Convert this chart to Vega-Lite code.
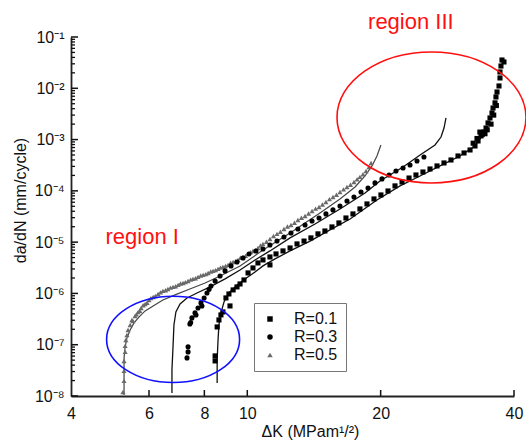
{
  "$schema": "https://vega.github.io/schema/vega-lite/v6.json",
  "width": 443,
  "height": 359,
  "autosize": {"type": "none"},
  "padding": {"left": 71, "top": 37, "right": 12, "bottom": 45},
  "background": "white",
  "config": {"view": {"stroke": null}, "font": "Liberation Sans"},
  "resolve": {"scale": {"x": "independent", "y": "independent"}, "axis": {"x": "independent", "y": "independent"}},
  "datasets": {
    "pts": [
      {"series":"R=0.5","dK":5.24,"dadN":1.2e-8},{"series":"R=0.5","dK":5.27,"dadN":1.97e-8},{"series":"R=0.5","dK":5.27,"dadN":3.09e-8},{"series":"R=0.5","dK":5.27,"dadN":4.83e-8},{"series":"R=0.5","dK":5.30,"dadN":7.24e-8},{"series":"R=0.5","dK":5.30,"dadN":9.48e-8},{"series":"R=0.5","dK":5.32,"dadN":1.24e-7},{"series":"R=0.5","dK":5.35,"dadN":1.55e-7},{"series":"R=0.5","dK":5.38,"dadN":1.94e-7},{"series":"R=0.5","dK":5.44,"dadN":2.43e-7},{"series":"R=0.5","dK":5.49,"dadN":3.04e-7},{"series":"R=0.5","dK":5.58,"dadN":3.64e-7},{"series":"R=0.5","dK":5.67,"dadN":4.36e-7},{"series":"R=0.5","dK":5.76,"dadN":5.21e-7},{"series":"R=0.5","dK":5.88,"dadN":6.24e-7},{"series":"R=0.5","dK":6.00,"dadN":7.46e-7},{"series":"R=0.5","dK":6.13,"dadN":8.55e-7},{"series":"R=0.5","dK":6.29,"dadN":9.77e-7},{"series":"R=0.5","dK":6.45,"dadN":1.12e-6},{"series":"R=0.5","dK":6.62,"dadN":1.22e-6},{"series":"R=0.5","dK":6.80,"dadN":1.34e-6},{"series":"R=0.5","dK":6.98,"dadN":1.47e-6},{"series":"R=0.5","dK":7.16,"dadN":1.60e-6},{"series":"R=0.5","dK":7.35,"dadN":1.75e-6},{"series":"R=0.5","dK":7.54,"dadN":1.92e-6},{"series":"R=0.5","dK":7.74,"dadN":2.10e-6},{"series":"R=0.5","dK":7.95,"dadN":2.30e-6},{"series":"R=0.5","dK":8.16,"dadN":2.51e-6},{"series":"R=0.5","dK":8.37,"dadN":2.75e-6},{"series":"R=0.5","dK":8.59,"dadN":3.01e-6},{"series":"R=0.5","dK":8.81,"dadN":3.29e-6},{"series":"R=0.5","dK":9.05,"dadN":3.60e-6},{"series":"R=0.5","dK":9.29,"dadN":4.11e-6},{"series":"R=0.5","dK":9.53,"dadN":4.50e-6},{"series":"R=0.5","dK":9.78,"dadN":5.14e-6},{"series":"R=0.5","dK":10.04,"dadN":5.89e-6},{"series":"R=0.5","dK":10.30,"dadN":6.74e-6},{"series":"R=0.5","dK":10.57,"dadN":7.70e-6},{"series":"R=0.5","dK":10.85,"dadN":9.23e-6},{"series":"R=0.5","dK":11.25,"dadN":1.15e-5},{"series":"R=0.5","dK":11.67,"dadN":1.45e-5},{"series":"R=0.5","dK":12.10,"dadN":1.81e-5},{"series":"R=0.5","dK":12.55,"dadN":2.16e-5},{"series":"R=0.5","dK":13.01,"dadN":2.71e-5},{"series":"R=0.5","dK":13.50,"dadN":3.24e-5},{"series":"R=0.5","dK":14.00,"dadN":4.06e-5},{"series":"R=0.5","dK":14.52,"dadN":4.85e-5},{"series":"R=0.5","dK":15.05,"dadN":6.08e-5},{"series":"R=0.5","dK":15.61,"dadN":7.60e-5},{"series":"R=0.5","dK":16.19,"dadN":9.52e-5},{"series":"R=0.5","dK":16.79,"dadN":1.19e-4},{"series":"R=0.5","dK":17.41,"dadN":1.49e-4},{"series":"R=0.5","dK":17.96,"dadN":1.87e-4},{"series":"R=0.5","dK":18.54,"dadN":2.44e-4},{"series":"R=0.5","dK":18.83,"dadN":2.92e-4},{"series":"R=0.5","dK":19.03,"dadN":3.50e-4},
      {"series":"R=0.5","dK":5.52,"dadN":2.9e-7},{"series":"R=0.5","dK":5.62,"dadN":3.9e-7},{"series":"R=0.5","dK":5.72,"dadN":4.6e-7},{"series":"R=0.5","dK":5.82,"dadN":5.9e-7},{"series":"R=0.5","dK":5.94,"dadN":6.6e-7},{"series":"R=0.5","dK":6.06,"dadN":8.1e-7},{"series":"R=0.5","dK":6.20,"dadN":8.9e-7},{"series":"R=0.5","dK":6.37,"dadN":1.05e-6},{"series":"R=0.5","dK":6.54,"dadN":1.15e-6},{"series":"R=0.5","dK":6.71,"dadN":1.30e-6},{"series":"R=0.5","dK":6.89,"dadN":1.38e-6},{"series":"R=0.5","dK":7.07,"dadN":1.56e-6},{"series":"R=0.5","dK":7.25,"dadN":1.66e-6},{"series":"R=0.5","dK":7.45,"dadN":1.86e-6},{"series":"R=0.5","dK":7.64,"dadN":1.98e-6},{"series":"R=0.5","dK":7.85,"dadN":2.24e-6},{"series":"R=0.5","dK":8.06,"dadN":2.38e-6},{"series":"R=0.5","dK":8.27,"dadN":2.68e-6},{"series":"R=0.5","dK":8.48,"dadN":2.85e-6},{"series":"R=0.5","dK":8.70,"dadN":3.18e-6},{"series":"R=0.5","dK":8.93,"dadN":3.42e-6},{"series":"R=0.5","dK":9.17,"dadN":3.95e-6},{"series":"R=0.5","dK":9.41,"dadN":4.25e-6},{"series":"R=0.5","dK":9.65,"dadN":4.95e-6},{"series":"R=0.5","dK":9.91,"dadN":5.4e-6},{"series":"R=0.5","dK":10.17,"dadN":6.4e-6},{"series":"R=0.5","dK":10.43,"dadN":7.0e-6},{"series":"R=0.5","dK":10.71,"dadN":8.6e-6},{"series":"R=0.5","dK":11.05,"dadN":1.02e-5},{"series":"R=0.5","dK":11.46,"dadN":1.32e-5},{"series":"R=0.5","dK":11.88,"dadN":1.60e-5},{"series":"R=0.5","dK":12.32,"dadN":2.02e-5},{"series":"R=0.5","dK":12.78,"dadN":2.38e-5},{"series":"R=0.5","dK":13.25,"dadN":2.98e-5},{"series":"R=0.5","dK":13.75,"dadN":3.62e-5},{"series":"R=0.5","dK":14.26,"dadN":4.5e-5},{"series":"R=0.5","dK":14.78,"dadN":5.4e-5},{"series":"R=0.5","dK":15.33,"dadN":6.9e-5},{"series":"R=0.5","dK":15.90,"dadN":8.4e-5},{"series":"R=0.5","dK":16.49,"dadN":1.07e-4},{"series":"R=0.5","dK":17.10,"dadN":1.32e-4},{"series":"R=0.5","dK":17.70,"dadN":1.68e-4},{"series":"R=0.5","dK":18.25,"dadN":2.1e-4},
      {"series":"R=0.3","dK":7.31,"dadN":5.53e-8},{"series":"R=0.3","dK":7.35,"dadN":7.24e-8},{"series":"R=0.3","dK":7.35,"dadN":9.1e-8},{"series":"R=0.3","dK":7.42,"dadN":2.54e-7},{"series":"R=0.3","dK":7.45,"dadN":2.7e-7},{"series":"R=0.3","dK":7.50,"dadN":3.33e-7},{"series":"R=0.3","dK":7.62,"dadN":4.17e-7},{"series":"R=0.3","dK":7.66,"dadN":3.8e-7},{"series":"R=0.3","dK":7.74,"dadN":5.21e-7},{"series":"R=0.3","dK":7.86,"dadN":6.53e-7},{"series":"R=0.3","dK":7.90,"dadN":5.7e-7},{"series":"R=0.3","dK":7.99,"dadN":8.17e-7},{"series":"R=0.3","dK":8.11,"dadN":1.02e-6},{"series":"R=0.3","dK":8.20,"dadN":1.2e-6},{"series":"R=0.3","dK":8.28,"dadN":1.40e-6},{"series":"R=0.3","dK":8.46,"dadN":1.75e-6},{"series":"R=0.3","dK":8.68,"dadN":2.19e-6},{"series":"R=0.3","dK":8.91,"dadN":2.75e-6},{"series":"R=0.3","dK":9.19,"dadN":3.44e-6},{"series":"R=0.3","dK":9.48,"dadN":4.11e-6},{"series":"R=0.3","dK":9.78,"dadN":4.92e-6},{"series":"R=0.3","dK":10.09,"dadN":5.89e-6},{"series":"R=0.3","dK":10.46,"dadN":6.74e-6},{"series":"R=0.3","dK":10.85,"dadN":7.37e-6},{"series":"R=0.3","dK":11.25,"dadN":8.82e-6},{"series":"R=0.3","dK":11.67,"dadN":1.05e-5},{"series":"R=0.3","dK":12.10,"dadN":1.26e-5},{"series":"R=0.3","dK":12.55,"dadN":1.51e-5},{"series":"R=0.3","dK":13.01,"dadN":1.81e-5},{"series":"R=0.3","dK":13.50,"dadN":2.16e-5},{"series":"R=0.3","dK":14.00,"dadN":2.59e-5},{"series":"R=0.3","dK":14.52,"dadN":2.96e-5},{"series":"R=0.3","dK":15.05,"dadN":3.55e-5},{"series":"R=0.3","dK":15.61,"dadN":4.25e-5},{"series":"R=0.3","dK":16.19,"dadN":5.08e-5},{"series":"R=0.3","dK":16.79,"dadN":6.36e-5},{"series":"R=0.3","dK":17.41,"dadN":7.60e-5},{"series":"R=0.3","dK":18.06,"dadN":9.52e-5},{"series":"R=0.3","dK":18.73,"dadN":1.14e-4},{"series":"R=0.3","dK":19.42,"dadN":1.43e-4},{"series":"R=0.3","dK":20.14,"dadN":1.71e-4},{"series":"R=0.3","dK":20.89,"dadN":2.04e-4},{"series":"R=0.3","dK":21.66,"dadN":2.44e-4},{"series":"R=0.3","dK":22.47,"dadN":2.79e-4},{"series":"R=0.3","dK":23.30,"dadN":3.20e-4},{"series":"R=0.3","dK":24.16,"dadN":3.83e-4},{"series":"R=0.3","dK":25.05,"dadN":4.58e-4},
      {"series":"R=0.1","dK":8.46,"dadN":4.83e-8},{"series":"R=0.1","dK":8.46,"dadN":6.05e-8},{"series":"R=0.1","dK":8.55,"dadN":2.22e-7},{"series":"R=0.1","dK":8.63,"dadN":3.04e-7},{"series":"R=0.1","dK":8.72,"dadN":3.81e-7},{"series":"R=0.1","dK":8.81,"dadN":4.36e-7},{"series":"R=0.1","dK":9.14,"dadN":5.70e-7},{"series":"R=0.1","dK":8.95,"dadN":8.17e-7},{"series":"R=0.1","dK":9.09,"dadN":9.77e-7},{"series":"R=0.1","dK":9.29,"dadN":1.17e-6},{"series":"R=0.1","dK":9.48,"dadN":1.34e-6},{"series":"R=0.1","dK":9.63,"dadN":1.53e-6},{"series":"R=0.1","dK":9.83,"dadN":1.83e-6},{"series":"R=0.1","dK":10.04,"dadN":2.51e-6},{"series":"R=0.1","dK":10.30,"dadN":3.14e-6},{"series":"R=0.1","dK":10.57,"dadN":3.93e-6},{"series":"R=0.1","dK":10.85,"dadN":4.50e-6},{"series":"R=0.1","dK":11.25,"dadN":3.60e-6},{"series":"R=0.1","dK":11.25,"dadN":5.14e-6},{"series":"R=0.1","dK":11.61,"dadN":5.89e-6},{"series":"R=0.1","dK":12.04,"dadN":6.74e-6},{"series":"R=0.1","dK":12.49,"dadN":7.70e-6},{"series":"R=0.1","dK":12.95,"dadN":9.23e-6},{"series":"R=0.1","dK":13.43,"dadN":1.05e-5},{"series":"R=0.1","dK":13.92,"dadN":1.21e-5},{"series":"R=0.1","dK":14.44,"dadN":1.45e-5},{"series":"R=0.1","dK":14.97,"dadN":1.65e-5},{"series":"R=0.1","dK":15.53,"dadN":1.98e-5},{"series":"R=0.1","dK":16.10,"dadN":2.37e-5},{"series":"R=0.1","dK":16.70,"dadN":2.96e-5},{"series":"R=0.1","dK":17.32,"dadN":3.55e-5},{"series":"R=0.1","dK":17.96,"dadN":4.44e-5},{"series":"R=0.1","dK":18.63,"dadN":5.56e-5},{"series":"R=0.1","dK":19.32,"dadN":6.95e-5},{"series":"R=0.1","dK":20.03,"dadN":8.32e-5},{"series":"R=0.1","dK":20.78,"dadN":9.95e-5},{"series":"R=0.1","dK":21.55,"dadN":1.25e-4},{"series":"R=0.1","dK":22.35,"dadN":1.49e-4},{"series":"R=0.1","dK":23.18,"dadN":1.78e-4},{"series":"R=0.1","dK":24.03,"dadN":2.04e-4},{"series":"R=0.1","dK":24.92,"dadN":2.33e-4},{"series":"R=0.1","dK":25.85,"dadN":2.67e-4},{"series":"R=0.1","dK":26.81,"dadN":3.06e-4},{"series":"R=0.1","dK":27.80,"dadN":3.50e-4},{"series":"R=0.1","dK":28.83,"dadN":4.00e-4},{"series":"R=0.1","dK":29.90,"dadN":4.79e-4},{"series":"R=0.1","dK":30.85,"dadN":5.48e-4},{"series":"R=0.1","dK":31.83,"dadN":6.27e-4},{"series":"R=0.1","dK":32.35,"dadN":8.5e-4},{"series":"R=0.1","dK":32.66,"dadN":7.50e-4},{"series":"R=0.1","dK":33.0,"dadN":1.05e-3},{"series":"R=0.1","dK":33.18,"dadN":9.39e-4},{"series":"R=0.1","dK":33.5,"dadN":1.4e-3},{"series":"R=0.1","dK":33.70,"dadN":1.18e-3},{"series":"R=0.1","dK":33.9,"dadN":1.25e-3},{"series":"R=0.1","dK":34.23,"dadN":1.41e-3},{"series":"R=0.1","dK":34.4,"dadN":1.3e-3},{"series":"R=0.1","dK":34.59,"dadN":1.68e-3},{"series":"R=0.1","dK":34.8,"dadN":1.55e-3},{"series":"R=0.1","dK":34.95,"dadN":2.11e-3},{"series":"R=0.1","dK":35.31,"dadN":2.64e-3},{"series":"R=0.1","dK":35.5,"dadN":2.0e-3},{"series":"R=0.1","dK":35.68,"dadN":3.30e-3},{"series":"R=0.1","dK":35.87,"dadN":4.13e-3},{"series":"R=0.1","dK":36.0,"dadN":3.0e-3},{"series":"R=0.1","dK":36.24,"dadN":5.2e-3},{"series":"R=0.1","dK":36.42,"dadN":6.77e-3},{"series":"R=0.1","dK":36.5,"dadN":4.6e-3},{"series":"R=0.1","dK":36.62,"dadN":8.47e-3},{"series":"R=0.1","dK":37.00,"dadN":1.11e-2},{"series":"R=0.1","dK":37.19,"dadN":1.59e-2},{"series":"R=0.1","dK":37.19,"dadN":2.08e-2},{"series":"R=0.1","dK":37.38,"dadN":2.72e-2},{"series":"R=0.1","dK":37.58,"dadN":3.56e-2},{"series":"R=0.1","dK":37.97,"dadN":3.26e-2}
    ],
    "fits": [
      {"series":"R=0.5","dK":5.27,"dadN":1.05e-8},{"series":"R=0.5","dK":5.27,"dadN":2.58e-8},{"series":"R=0.5","dK":5.27,"dadN":5.53e-8},{"series":"R=0.5","dK":5.30,"dadN":9.1e-8},{"series":"R=0.5","dK":5.35,"dadN":1.36e-7},{"series":"R=0.5","dK":5.44,"dadN":1.94e-7},{"series":"R=0.5","dK":5.55,"dadN":2.66e-7},{"series":"R=0.5","dK":5.70,"dadN":3.48e-7},{"series":"R=0.5","dK":5.88,"dadN":4.56e-7},{"series":"R=0.5","dK":6.13,"dadN":5.70e-7},{"series":"R=0.5","dK":6.45,"dadN":7.46e-7},{"series":"R=0.5","dK":6.87,"dadN":9.35e-7},{"series":"R=0.5","dK":7.42,"dadN":1.22e-6},{"series":"R=0.5","dK":8.03,"dadN":1.60e-6},{"series":"R=0.5","dK":8.68,"dadN":2.19e-6},{"series":"R=0.5","dK":9.63,"dadN":3.44e-6},{"series":"R=0.5","dK":10.85,"dadN":7.0e-6},{"series":"R=0.5","dK":12.49,"dadN":1.51e-5},{"series":"R=0.5","dK":14.59,"dadN":3.71e-5},{"series":"R=0.5","dK":16.19,"dadN":6.95e-5},{"series":"R=0.5","dK":17.51,"dadN":1.19e-4},{"series":"R=0.5","dK":18.44,"dadN":1.95e-4},{"series":"R=0.5","dK":19.12,"dadN":3.06e-4},{"series":"R=0.5","dK":19.62,"dadN":4.79e-4},{"series":"R=0.5","dK":20.03,"dadN":7.85e-4},
      {"series":"R=0.3","dK":6.76,"dadN":1.15e-8},{"series":"R=0.3","dK":6.76,"dadN":3.23e-8},{"series":"R=0.3","dK":6.80,"dadN":9.9e-8},{"series":"R=0.3","dK":6.83,"dadN":2.43e-7},{"series":"R=0.3","dK":6.90,"dadN":4.36e-7},{"series":"R=0.3","dK":7.05,"dadN":6.24e-7},{"series":"R=0.3","dK":7.31,"dadN":8.17e-7},{"series":"R=0.3","dK":7.70,"dadN":1.02e-6},{"series":"R=0.3","dK":8.24,"dadN":1.34e-6},{"series":"R=0.3","dK":8.91,"dadN":1.92e-6},{"series":"R=0.3","dK":9.63,"dadN":2.87e-6},{"series":"R=0.3","dK":10.41,"dadN":4.50e-6},{"series":"R=0.3","dK":11.25,"dadN":6.74e-6},{"series":"R=0.3","dK":12.49,"dadN":1.21e-5},{"series":"R=0.3","dK":14.22,"dadN":2.26e-5},{"series":"R=0.3","dK":16.19,"dadN":4.44e-5},{"series":"R=0.3","dK":18.44,"dadN":9.1e-5},{"series":"R=0.3","dK":19.93,"dadN":1.56e-4},{"series":"R=0.3","dK":22.47,"dadN":2.92e-4},{"series":"R=0.3","dK":24.55,"dadN":5.01e-4},{"series":"R=0.3","dK":26.53,"dadN":7.85e-4},{"series":"R=0.3","dK":27.37,"dadN":1.12e-3},{"series":"R=0.3","dK":27.80,"dadN":1.68e-3},{"series":"R=0.3","dK":28.09,"dadN":2.64e-3},
      {"series":"R=0.1","dK":8.55,"dadN":1.80e-8},{"series":"R=0.1","dK":8.55,"dadN":5.06e-8},{"series":"R=0.1","dK":8.59,"dadN":1.24e-7},{"series":"R=0.1","dK":8.63,"dadN":2.43e-7},{"series":"R=0.1","dK":8.72,"dadN":4.17e-7},{"series":"R=0.1","dK":8.86,"dadN":6.82e-7},{"series":"R=0.1","dK":9.09,"dadN":1.02e-6},{"series":"R=0.1","dK":9.43,"dadN":1.40e-6},{"series":"R=0.1","dK":9.88,"dadN":1.92e-6},{"series":"R=0.1","dK":10.41,"dadN":2.62e-6},{"series":"R=0.1","dK":10.85,"dadN":3.44e-6},{"series":"R=0.1","dK":11.55,"dadN":4.71e-6},{"series":"R=0.1","dK":12.49,"dadN":6.74e-6},{"series":"R=0.1","dK":13.86,"dadN":1.05e-5},{"series":"R=0.1","dK":15.37,"dadN":1.73e-5},{"series":"R=0.1","dK":17.06,"dadN":2.83e-5},{"series":"R=0.1","dK":19.62,"dadN":6.65e-5},{"series":"R=0.1","dK":22.12,"dadN":1.25e-4},{"series":"R=0.1","dK":24.55,"dadN":1.95e-4},{"series":"R=0.1","dK":27.23,"dadN":3.06e-4},{"series":"R=0.1","dK":30.21,"dadN":4.79e-4},{"series":"R=0.1","dK":32.66,"dadN":7.50e-4},{"series":"R=0.1","dK":34.41,"dadN":1.41e-3}
    ],
    "yMajor": [{"dadN":1e-8},{"dadN":1e-7},{"dadN":1e-6},{"dadN":1e-5},{"dadN":1e-4},{"dadN":1e-3},{"dadN":1e-2},{"dadN":0.1}],
    "yMinor": [
      {"dadN":2e-8},{"dadN":3e-8},{"dadN":4e-8},{"dadN":5e-8},{"dadN":6e-8},{"dadN":7e-8},{"dadN":8e-8},{"dadN":9e-8},
      {"dadN":2e-7},{"dadN":3e-7},{"dadN":4e-7},{"dadN":5e-7},{"dadN":6e-7},{"dadN":7e-7},{"dadN":8e-7},{"dadN":9e-7},
      {"dadN":2e-6},{"dadN":3e-6},{"dadN":4e-6},{"dadN":5e-6},{"dadN":6e-6},{"dadN":7e-6},{"dadN":8e-6},{"dadN":9e-6},
      {"dadN":2e-5},{"dadN":3e-5},{"dadN":4e-5},{"dadN":5e-5},{"dadN":6e-5},{"dadN":7e-5},{"dadN":8e-5},{"dadN":9e-5},
      {"dadN":2e-4},{"dadN":3e-4},{"dadN":4e-4},{"dadN":5e-4},{"dadN":6e-4},{"dadN":7e-4},{"dadN":8e-4},{"dadN":9e-4},
      {"dadN":2e-3},{"dadN":3e-3},{"dadN":4e-3},{"dadN":5e-3},{"dadN":6e-3},{"dadN":7e-3},{"dadN":8e-3},{"dadN":9e-3},
      {"dadN":2e-2},{"dadN":3e-2},{"dadN":4e-2},{"dadN":5e-2},{"dadN":6e-2},{"dadN":7e-2},{"dadN":8e-2},{"dadN":9e-2}
    ],
    "xMajor": [{"dK":6},{"dK":8},{"dK":10},{"dK":20},{"dK":40}],
    "regionIII": [{"dK": 26.05, "dadN": 0.0027}],
    "regionI": [{"dK": 6.80, "dadN": 1.27e-7}],
    "labels": [
      {"label": "region III", "dK": 23.4, "dadN": 0.196},
      {"label": "region I", "dK": 5.79, "dadN": 1.26e-5}
    ]
  },
  "layer": [
    {
      "data": {"name": "fits"},
      "transform": [{"filter": "datum.series != 'R=0.5'"}],
      "mark": {"type": "line", "color": "#111", "strokeWidth": 1.3},
      "encoding": {
        "x": {
          "field": "dK", "type": "quantitative",
          "scale": {"type": "log", "domain": [4, 40], "nice": false},
          "axis": {
            "orient": "bottom",
            "values": [4, 6, 8, 10, 20, 40],
            "labelExpr": "format(datum.value, 'd')",
            "title": "ΔK (MPam¹/²)",
            "grid": false,
            "ticks": false,
            "domainColor": "#222",
            "domainWidth": 1.8,
            "labelPadding": 9,
            "labelFontSize": 16,
            "labelColor": "#111",
            "labelFont": "Liberation Sans",
            "labelOverlap": false,
            "labelFlush": false,
            "titleFont": "Liberation Sans",
            "titleFontSize": 16,
            "titleFontWeight": "normal",
            "titleColor": "#111",
            "titleX": 239,
            "titleY": 40,
            "titleAlign": "center",
            "titleBaseline": "alphabetic"
          }
        },
        "y": {
          "field": "dadN", "type": "quantitative",
          "scale": {"type": "log", "domain": [1e-8, 0.1], "nice": false},
          "axis": {
            "orient": "left",
            "values": [1e-8, 1e-7, 1e-6, 1e-5, 1e-4, 1e-3, 1e-2, 0.1],
            "labelExpr": "'10⁻' + ['⁰','¹','²','³','⁴','⁵','⁶','⁷','⁸','⁹'][-round(log(datum.value)/LN10)]",
            "title": "da/dN (mm/cycle)",
            "grid": false,
            "ticks": false,
            "domainColor": "#222",
            "domainWidth": 1.8,
            "labelPadding": 7,
            "labelFontSize": 16,
            "labelColor": "#111",
            "labelFont": "Liberation Sans",
            "labelOverlap": false,
            "labelFlush": false,
            "titleFont": "Liberation Sans",
            "titleFontSize": 16,
            "titleFontWeight": "normal",
            "titleColor": "#111",
            "titleX": -51,
            "titleY": 163,
            "titleAngle": -90,
            "titleAlign": "center",
            "titleBaseline": "middle"
          }
        },
        "detail": {"field": "series"},
        "order": {"field": "dadN", "type": "quantitative"}
      }
    },
    {
      "data": {"name": "fits"},
      "transform": [{"filter": "datum.series == 'R=0.5'"}],
      "mark": {"type": "line", "color": "#444", "strokeWidth": 1.2},
      "encoding": {
        "x": {"field": "dK", "type": "quantitative", "scale": {"type": "log", "domain": [4, 40], "nice": false}, "axis": null},
        "y": {"field": "dadN", "type": "quantitative", "scale": {"type": "log", "domain": [1e-8, 0.1], "nice": false}, "axis": null},
        "detail": {"field": "series"},
        "order": {"field": "dadN", "type": "quantitative"}
      }
    },
    {
      "data": {"name": "yMajor"},
      "mark": {"type": "tick", "orient": "horizontal", "size": 7, "thickness": 1.5, "xOffset": 3.5, "color": "#111", "opacity": 1},
      "encoding": {
        "x": {"datum": 4, "type": "quantitative", "scale": {"type": "log", "domain": [4, 40], "nice": false}, "axis": null},
        "y": {"field": "dadN", "type": "quantitative", "scale": {"type": "log", "domain": [1e-8, 0.1], "nice": false}, "axis": null}
      }
    },
    {
      "data": {"name": "yMinor"},
      "mark": {"type": "tick", "orient": "horizontal", "size": 4, "thickness": 1.3, "xOffset": 2, "color": "#111", "opacity": 1},
      "encoding": {
        "x": {"datum": 4, "type": "quantitative", "scale": {"type": "log", "domain": [4, 40], "nice": false}, "axis": null},
        "y": {"field": "dadN", "type": "quantitative", "scale": {"type": "log", "domain": [1e-8, 0.1], "nice": false}, "axis": null}
      }
    },
    {
      "data": {"name": "xMajor"},
      "mark": {"type": "tick", "orient": "vertical", "size": 6, "thickness": 1.5, "yOffset": -3, "color": "#111", "opacity": 1},
      "encoding": {
        "x": {"field": "dK", "type": "quantitative", "scale": {"type": "log", "domain": [4, 40], "nice": false}, "axis": null},
        "y": {"datum": 1e-8, "type": "quantitative", "scale": {"type": "log", "domain": [1e-8, 0.1], "nice": false}, "axis": null}
      }
    },
    {
      "data": {"name": "pts"},
      "mark": {"type": "point", "filled": true, "opacity": 1, "size": 26},
      "encoding": {
        "x": {"field": "dK", "type": "quantitative", "scale": {"type": "log", "domain": [4, 40], "nice": false}, "axis": null},
        "y": {"field": "dadN", "type": "quantitative", "scale": {"type": "log", "domain": [1e-8, 0.1], "nice": false}, "axis": null},
        "color": {
          "field": "series", "type": "nominal",
          "scale": {"domain": ["R=0.1", "R=0.3", "R=0.5"], "range": ["#000000", "#000000", "#6a6a6a"]},
          "legend": {
            "orient": "none", "legendX": 183, "legendY": 266, "title": null,
            "strokeColor": "#777", "fillColor": "white", "padding": 8,
            "labelFontSize": 16, "labelFont": "Liberation Sans", "labelColor": "#111",
            "symbolSize": 30, "rowPadding": 2, "labelOffset": 16, "symbolStrokeWidth": 0
          }
        },
        "shape": {
          "field": "series", "type": "nominal",
          "scale": {"domain": ["R=0.1", "R=0.3", "R=0.5"], "range": ["square", "circle", "triangle-up"]},
          "legend": {
            "orient": "none", "legendX": 183, "legendY": 266, "title": null,
            "strokeColor": "#777", "fillColor": "white", "padding": 8,
            "labelFontSize": 16, "labelFont": "Liberation Sans", "labelColor": "#111",
            "symbolSize": 30, "rowPadding": 2, "labelOffset": 16, "symbolStrokeWidth": 0
          }
        }
      }
    },
    {
      "data": {"name": "regionIII"},
      "mark": {"type": "point", "shape": "M-1,0A1,0.693,0,1,1,1,0A1,0.693,0,1,1,-1,0Z", "size": 35721, "filled": false, "color": "#ff1010", "strokeWidth": 1.6, "opacity": 1},
      "encoding": {
        "x": {"field": "dK", "type": "quantitative", "scale": {"type": "log", "domain": [4, 40], "nice": false}, "axis": null},
        "y": {"field": "dadN", "type": "quantitative", "scale": {"type": "log", "domain": [1e-8, 0.1], "nice": false}, "axis": null}
      }
    },
    {
      "data": {"name": "regionI"},
      "mark": {"type": "point", "shape": "M-1,0A1,0.649,0,1,1,1,0A1,0.649,0,1,1,-1,0Z", "size": 17689, "filled": false, "color": "#1010ff", "strokeWidth": 1.6, "opacity": 1},
      "encoding": {
        "x": {"field": "dK", "type": "quantitative", "scale": {"type": "log", "domain": [4, 40], "nice": false}, "axis": null},
        "y": {"field": "dadN", "type": "quantitative", "scale": {"type": "log", "domain": [1e-8, 0.1], "nice": false}, "axis": null}
      }
    },
    {
      "data": {"name": "labels"},
      "mark": {"type": "text", "color": "#ff1010", "fontSize": 22, "font": "Liberation Sans", "align": "center", "baseline": "middle"},
      "encoding": {
        "x": {"field": "dK", "type": "quantitative", "scale": {"type": "log", "domain": [4, 40], "nice": false}, "axis": null},
        "y": {"field": "dadN", "type": "quantitative", "scale": {"type": "log", "domain": [1e-8, 0.1], "nice": false}, "axis": null},
        "text": {"field": "label"}
      }
    }
  ]
}
